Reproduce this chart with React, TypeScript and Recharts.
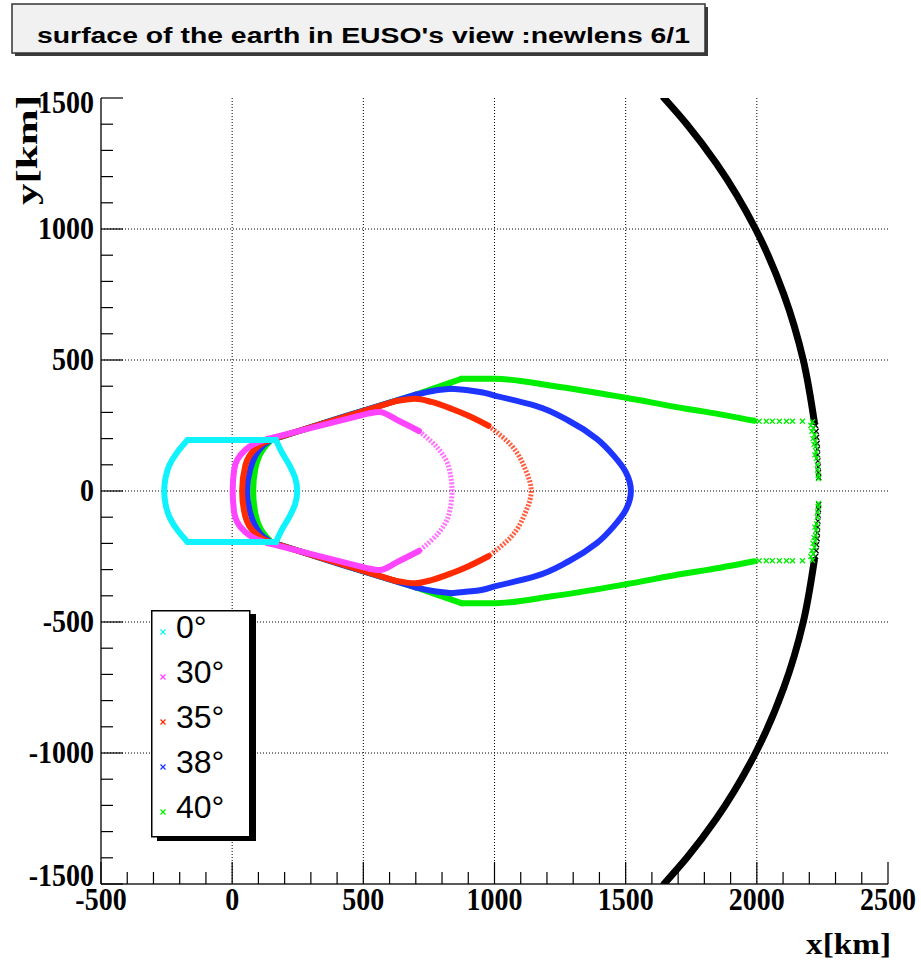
import React from 'react';
import { ScatterChart, Scatter, XAxis, YAxis, CartesianGrid, Legend } from 'recharts';

// ---- axis ticks ----
const xMajor = [-500, 0, 500, 1000, 1500, 2000, 2500];
const xTicks = [-500, -400, -300, -200, -100, 0, 100, 200, 300, 400, 500, 600, 700, 800, 900, 1000, 1100, 1200, 1300, 1400, 1500, 1600, 1700, 1800, 1900, 2000, 2100, 2200, 2300, 2400, 2500];
const yMajor = [-1500, -1000, -500, 0, 500, 1000, 1500];
const yTicks = [-1500, -1400, -1300, -1200, -1100, -1000, -900, -800, -700, -600, -500, -400, -300, -200, -100, 0, 100, 200, 300, 400, 500, 600, 700, 800, 900, 1000, 1100, 1200, 1300, 1400, 1500];
const gridX = [0, 500, 1000, 1500, 2000];
const gridY = [-1000, -500, 0, 500, 1000];

// ---- legend ----
const legendLabels = ['0°', '30°', '35°', '38°', '40°'];
const legendColors = ['#11f2ff', '#ff44ff', '#ff2a00', '#1e35ff', '#00ee00'];

// ---- series pieces (x [km], y [km]) ----
// 0°
const cyanTop: number[][] = [[-170, 195], [167, 195]];
const cyanRight: number[][] = [[167, 195], [188, 150], [219, 97], [240, 50], [248, 0], [240, -50], [219, -97], [188, -150], [167, -195]];
const cyanBottom: number[][] = [[167, -195], [-170, -195]];
const cyanLeft: number[][] = [[-170, 195], [-208, 150], [-240, 97], [-254, 50], [-259, 0], [-254, -50], [-240, -97], [-208, -150], [-170, -195]];
// 30°
const pinkLeft: number[][] = [[136, 199], [85, 180], [47, 154], [8, 84], [2, 0], [8, -84], [47, -154], [85, -180], [136, -199]];
const pinkLineUp: number[][] = [[136, 199], [525, 297]];
const pinkPeakUp: number[][] = [[525, 297], [562, 302], [633, 269], [712, 229]];
const pinkRight: number[][] = [[712, 229], [786, 161], [824, 96], [838, 0], [824, -96], [786, -161], [712, -229]];
const pinkLineDn: number[][] = [[136, -199], [525, -297]];
const pinkPeakDn: number[][] = [[525, -297], [562, -302], [633, -269], [712, -229]];
// 35°
const redLeft: number[][] = [[138, 193], [110, 179], [88, 161], [50, 96], [38, 0], [50, -96], [88, -161], [110, -179], [138, -193]];
const redLineUp: number[][] = [[138, 193], [420, 280], [620, 342]];
const redPeakUp: number[][] = [[620, 342], [698, 352], [760, 340], [836, 314], [901, 287], [977, 249]];
const redRight: number[][] = [[977, 249], [1065, 173], [1117, 84], [1140, 0], [1117, -84], [1065, -173], [977, -249]];
const redLineDn: number[][] = [[138, -193], [420, -280], [620, -342]];
const redPeakDn: number[][] = [[620, -342], [698, -352], [760, -340], [836, -314], [901, -287], [977, -249]];
// 38°
const blueLeft: number[][] = [[145, 194], [120, 176], [100, 153], [69, 84], [57, 0], [69, -84], [100, -153], [120, -176], [145, -194]];
const blueLineUp: number[][] = [[145, 194], [420, 282], [700, 368]];
const bluePeakUp: number[][] = [[700, 368], [765, 382], [836, 390]];
const blueRight: number[][] = [
  [836, 390], [912, 383], [1004, 363], [1157, 325], [1283, 268], [1390, 199], [1455, 134], [1500, 73], [1520, 0],
  [1500, -73], [1455, -134], [1390, -199], [1283, -268], [1157, -325], [1004, -363], [912, -383], [836, -390],
];
const blueLineDn: number[][] = [[145, -194], [420, -282], [700, -368]];
const bluePeakDn: number[][] = [[700, -368], [765, -382], [836, -390]];
// 40°
const greenLeft: number[][] = [[149, 195], [135, 180], [119, 161], [88, 84], [80, 0], [88, -84], [119, -161], [135, -180], [149, -195]];
const greenLineUp: number[][] = [[149, 195], [420, 282], [709, 371], [874, 428]];
const greenTailUp: number[][] = [[874, 428], [1004, 428], [1218, 402], [1501, 356], [1730, 314], [1806, 302], [1990, 268]];
const greenLineDn: number[][] = [[149, -195], [420, -282], [709, -371], [874, -428]];
const greenTailDn: number[][] = [[874, -428], [1004, -428], [1218, -402], [1501, -356], [1730, -314], [1806, -302], [1990, -268]];
const greenMarks: number[][] = [
  [2009, 266], [2036, 266], [2059, 266], [2086, 266], [2113, 266], [2136, 266], [2174, 266], [2212, 264], [2206, 250],
  [2215, 240], [2210, 228], [2220, 215], [2214, 200], [2222, 190], [2218, 178], [2224, 170], [2226, 150], [2221, 138],
  [2228, 125], [2231, 100], [2232, 80], [2234, 60], [2235, 48],
  [2009, -266], [2036, -266], [2059, -266], [2086, -266], [2113, -266], [2136, -266], [2174, -266], [2212, -264], [2206, -250],
  [2215, -240], [2210, -228], [2220, -215], [2214, -200], [2222, -190], [2218, -178], [2224, -170], [2226, -150], [2221, -138],
  [2228, -125], [2231, -100], [2232, -80], [2234, -60], [2235, -48],
];
// earth surface
const earthUpper: number[][] = [[1646, 1500], [1733, 1400], [1846, 1250], [1995, 1000], [2103, 750], [2177, 500], [2219, 265]];
const earthLower: number[][] = [[2219, -265], [2177, -500], [2103, -750], [1995, -1000], [1846, -1250], [1733, -1400], [1646, -1500]];
const earthMarks: number[][] = [
  [2224, 250], [2226, 228], [2228, 205], [2230, 182], [2231, 160], [2232, 138], [2233, 115], [2234, 92], [2235, 70], [2236, 52],
  [2224, -250], [2226, -228], [2228, -205], [2230, -182], [2231, -160], [2232, -138], [2233, -115], [2234, -92], [2235, -70], [2236, -52],
];

type Seg = { id: string; data: number[][]; color: string; kind: 'dense' | 'sparse' | 'marks'; curve: string };
const K = '#000000';
const [C0, C30, C35, C38, C40] = legendColors;
const segments: Seg[] = [
  { id: 'eU', data: earthUpper, color: K, kind: 'dense', curve: 'monotoneY' },
  { id: 'eL', data: earthLower, color: K, kind: 'dense', curve: 'monotoneY' },
  { id: 'eM', data: earthMarks, color: K, kind: 'marks', curve: 'linear' },
  { id: 'gL', data: greenLeft, color: C40, kind: 'dense', curve: 'monotoneY' },
  { id: 'gU1', data: greenLineUp, color: C40, kind: 'dense', curve: 'linear' },
  { id: 'gU2', data: greenTailUp, color: C40, kind: 'dense', curve: 'monotoneX' },
  { id: 'gD1', data: greenLineDn, color: C40, kind: 'dense', curve: 'linear' },
  { id: 'gD2', data: greenTailDn, color: C40, kind: 'dense', curve: 'monotoneX' },
  { id: 'gM', data: greenMarks, color: C40, kind: 'marks', curve: 'linear' },
  { id: 'bL', data: blueLeft, color: C38, kind: 'dense', curve: 'monotoneY' },
  { id: 'bU1', data: blueLineUp, color: C38, kind: 'dense', curve: 'linear' },
  { id: 'bU2', data: bluePeakUp, color: C38, kind: 'dense', curve: 'monotoneX' },
  { id: 'bD1', data: blueLineDn, color: C38, kind: 'dense', curve: 'linear' },
  { id: 'bD2', data: bluePeakDn, color: C38, kind: 'dense', curve: 'monotoneX' },
  { id: 'bR', data: blueRight, color: C38, kind: 'dense', curve: 'monotoneY' },
  { id: 'rL', data: redLeft, color: C35, kind: 'dense', curve: 'monotoneY' },
  { id: 'rU1', data: redLineUp, color: C35, kind: 'dense', curve: 'linear' },
  { id: 'rU2', data: redPeakUp, color: C35, kind: 'dense', curve: 'monotoneX' },
  { id: 'rD1', data: redLineDn, color: C35, kind: 'dense', curve: 'linear' },
  { id: 'rD2', data: redPeakDn, color: C35, kind: 'dense', curve: 'monotoneX' },
  { id: 'rR', data: redRight, color: C35, kind: 'sparse', curve: 'monotoneY' },
  { id: 'pL', data: pinkLeft, color: C30, kind: 'dense', curve: 'monotoneY' },
  { id: 'pU1', data: pinkLineUp, color: C30, kind: 'dense', curve: 'linear' },
  { id: 'pU2', data: pinkPeakUp, color: C30, kind: 'dense', curve: 'monotoneX' },
  { id: 'pD1', data: pinkLineDn, color: C30, kind: 'dense', curve: 'linear' },
  { id: 'pD2', data: pinkPeakDn, color: C30, kind: 'dense', curve: 'monotoneX' },
  { id: 'pR', data: pinkRight, color: C30, kind: 'sparse', curve: 'monotoneY' },
  { id: 'cT', data: cyanTop, color: C0, kind: 'dense', curve: 'linear' },
  { id: 'cB', data: cyanBottom, color: C0, kind: 'dense', curve: 'linear' },
  { id: 'cR', data: cyanRight, color: C0, kind: 'dense', curve: 'monotoneY' },
  { id: 'cL', data: cyanLeft, color: C0, kind: 'dense', curve: 'monotoneY' },
];

const toPts = (a: number[][]) => a.map(([x, y]) => ({ x, y }));

const SERIF = '"Liberation Serif", "Times New Roman", serif';
const SANS = '"Liberation Sans", Arial, sans-serif';
const LABEL_SY = 1.15;

const XTick = (props: any) => {
  const { x, y, payload } = props;
  const v = payload.value;
  const major = xMajor.includes(v);
  return (
    <g>
      <line x1={x} y1={y} x2={x} y2={y - (major ? 22 : 12)} stroke="#000" strokeWidth={1.2} />
      {major && (
        <text transform={`translate(${x},${y + 26}) scale(1,${LABEL_SY})`} textAnchor="middle" fontFamily={SERIF} fontWeight="bold" fontSize={28} fill="#000">
          {v}
        </text>
      )}
    </g>
  );
};

const YTick = (props: any) => {
  const { x, y, payload } = props;
  const v = payload.value;
  const major = yMajor.includes(v);
  const dy = v === 1500 ? 15 : v === -1500 ? 2 : 10;
  return (
    <g>
      <line x1={x} y1={y} x2={x + (major ? 22 : 12)} y2={y} stroke="#000" strokeWidth={1.2} />
      {major && (
        <text transform={`translate(${x - 7},${y + dy}) scale(1,${LABEL_SY})`} textAnchor="end" fontFamily={SERIF} fontWeight="bold" fontSize={28} fill="#000">
          {v}
        </text>
      )}
    </g>
  );
};

const noShape = () => <g />;
const makeCross = (color: string) => (p: any) => {
  const { cx, cy } = p;
  return (
    <g>
      <line x1={cx - 2.5} y1={cy - 2.5} x2={cx + 2.5} y2={cy + 2.5} stroke={color} strokeWidth={1.3} />
      <line x1={cx - 2.5} y1={cy + 2.5} x2={cx + 2.5} y2={cy - 2.5} stroke={color} strokeWidth={1.3} />
    </g>
  );
};

const lineStyle = (color: string, kind: string) =>
  kind === 'dense'
    ? { stroke: color, strokeWidth: color === K ? 7 : 6, strokeLinejoin: 'round', strokeLinecap: 'round', fill: 'none' }
    : { stroke: color, strokeWidth: 5, strokeDasharray: '2 1.5', strokeOpacity: 0.75, fill: 'none' };

const LegendBox = () => (
  <svg width={110} height={235} style={{ display: 'block' }}>
    <rect x={6} y={4} width={99} height={227} fill="#000" />
    <rect x={0.75} y={0.75} width={98} height={226} fill="#fff" stroke="#000" strokeWidth={1.5} />
    {legendLabels.map((lab, i) => {
      const my = 22 + i * 45;
      return (
        <g key={lab}>
          <line x1={12 - 2.5} y1={my - 2.5} x2={12 + 2.5} y2={my + 2.5} stroke={legendColors[i]} strokeWidth={1.3} />
          <line x1={12 - 2.5} y1={my + 2.5} x2={12 + 2.5} y2={my - 2.5} stroke={legendColors[i]} strokeWidth={1.3} />
          <text x={25} y={my + 6} fontFamily={SANS} fontSize={32} fill="#000">
            {lab}
          </text>
        </g>
      );
    })}
  </svg>
);

export default function App() {
  return (
    <div style={{ position: 'absolute', left: 0, top: 0, width: 921, height: 969, background: '#fff' }}>
      <ScatterChart width={921} height={969} margin={{ top: 98, right: 33, bottom: 0, left: 0 }}>
        <CartesianGrid verticalValues={gridX} horizontalValues={gridY} stroke="#000" strokeDasharray="1 2" strokeWidth={1} />
        <XAxis
          type="number"
          dataKey="x"
          domain={[-500, 2500]}
          ticks={xTicks}
          interval={0}
          height={85}
          tickSize={0}
          tickMargin={0}
          tickLine={false}
          axisLine={{ stroke: '#222', strokeWidth: 1.5 }}
          tick={<XTick />}
          allowDataOverflow
        />
        <YAxis
          type="number"
          dataKey="y"
          domain={[-1500, 1500]}
          ticks={yTicks}
          interval={0}
          width={101}
          tickSize={0}
          tickMargin={0}
          tickLine={false}
          axisLine={{ stroke: '#222', strokeWidth: 1.5 }}
          tick={<YTick />}
          allowDataOverflow
        />
        <XAxis xAxisId="top" orientation="top" type="number" domain={[-500, 2500]} height={0} tick={false} tickLine={false} axisLine={{ stroke: '#222', strokeWidth: 1.5 }} />
        <YAxis yAxisId="right" orientation="right" type="number" domain={[-1500, 1500]} width={0} tick={false} tickLine={false} axisLine={{ stroke: '#222', strokeWidth: 1.5 }} />

        {segments.map((s) =>
          s.kind === 'marks' ? (
            <Scatter key={s.id} name={s.id} data={toPts(s.data)} shape={makeCross(s.color)} isAnimationActive={false} legendType="none" />
          ) : (
            <Scatter
              key={s.id}
              name={s.id}
              data={toPts(s.data)}
              line={lineStyle(s.color, s.kind) as any}
              lineJointType={s.curve as any}
              shape={noShape}
              isAnimationActive={false}
              legendType="none"
            />
          )
        )}

        <Legend
          layout="vertical"
          align="center"
          verticalAlign="middle"
          wrapperStyle={{ position: 'absolute', left: 151, top: 610, width: 110, height: 235 }}
          content={() => <LegendBox />}
        />
      </ScatterChart>

      <svg width={921} height={969} style={{ position: 'absolute', left: 0, top: 0, pointerEvents: 'none' }}>
        <rect x={15} y={7} width={693} height={49} fill="#3a3a3a" />
        <rect x={12} y={4} width={693} height={49} fill="#f1f1f1" stroke="#333" strokeWidth={1.5} />
        <text x={37} y={43} fontFamily={SANS} fontWeight="bold" fontSize={22} fill="#000" textLength={653} lengthAdjust="spacingAndGlyphs">
          surface of the earth in EUSO's view :newlens 6/1
        </text>
        <text x={891} y={954} textAnchor="end" fontFamily={SERIF} fontWeight="bold" fontSize={30} fill="#000" textLength={85} lengthAdjust="spacingAndGlyphs">
          x[km]
        </text>
        <text transform="translate(37,95) rotate(-90)" textAnchor="end" fontFamily={SERIF} fontWeight="bold" fontSize={30} fill="#000" textLength={110} lengthAdjust="spacingAndGlyphs">
          y[km]
        </text>
      </svg>
    </div>
  );
}
